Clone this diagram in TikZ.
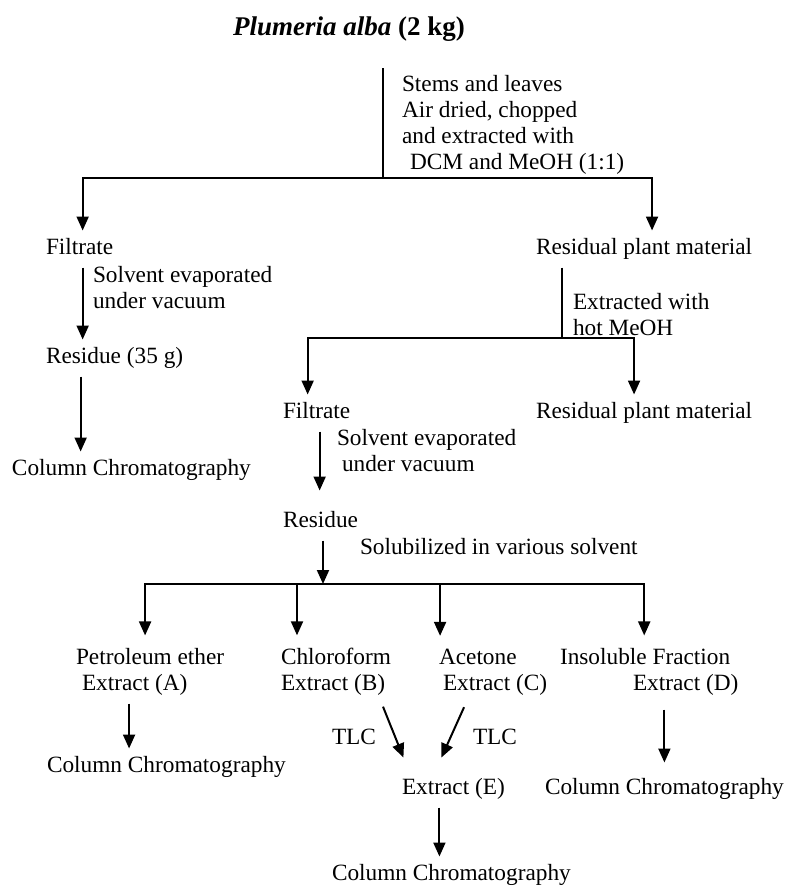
\documentclass[tikz,border=0pt]{standalone}
\usepackage{fontspec}
\setmainfont{Liberation Serif}
\usetikzlibrary{arrows.meta,positioning}

\begin{document}
\begin{tikzpicture}[
		x = 1pt, y = -1pt,
		line/.style = { line width = 2pt },
		arr/.style = { line, -{Triangle[width=12pt,length=14pt]} },
		txt/.style = { inner sep = 0pt, outer xsep = 0pt, outer ysep = 8pt, anchor = west, font = \fontsize{23.3}{26}\selectfont },
		one/.style = { txt, text height = 16pt, text depth = 5pt },
		many/.style = { txt, align = left }
	]
	\useasboundingbox (0,0) rectangle (788,886);

	\node [font = \fontsize{27}{30}\selectfont\bfseries] (plant) at (349,29) { \textit{Plumeria alba} (2 kg) };
	\node [many] (stems) at (402,125) { Stems and leaves\\ Air dried, chopped\\ and extracted with\\ \hspace*{8pt}DCM and MeOH (1:1) };

	\node [one] (filt1) at (46,249) { Filtrate };
	\node [many] (solv1) at (93,288) { Solvent evaporated\\ under vacuum };
	\node [one] (resd1) at (46,358) { Residue (35 g) };
	\node [one] (cc1) at (12,470) { Column Chromatography };

	\node [one] (res1) at (536,249) { Residual plant material };
	\node [many] (extr) at (573,315) { Extracted with\\ hot MeOH };
	\node [one] (filt2) at (283,413) { Filtrate };
	\node [one] (res2) at (536,413) { Residual plant material };
	\node [many] (solv2) at (337,451) { Solvent evaporated\\ \hspace*{5pt}under vacuum };
	\node [one] (resd2) at (283,522) { Residue };
	\node [one] (solub) at (360,549) { Solubilized in various solvent };

	\node [many] (petA) at (76,672) { Petroleum ether\\ \hspace*{6pt}Extract (A) };
	\node [many] (chlB) at (281,672) { Chloroform\\ Extract (B) };
	\node [many] (aceC) at (439,672) { Acetone\\ \hspace*{4pt}Extract (C) };
	\node [many] (insD) at (560,672) { Insoluble Fraction\\ \hspace*{73pt}Extract (D) };

	\node [one] (cc2) at (47,767) { Column Chromatography };
	\node [one] (tlc1) at (332,739) { TLC };
	\node [one] (tlc2) at (473,739) { TLC };
	\node [one] (extE) at (402,789) { Extract (E) };
	\node [one] (cc3) at (545,789) { Column Chromatography };
	\node [one] (cc4) at (332,875) { Column Chromatography };

	\coordinate (stem) at (383,68);
	\coordinate (split1) at (383,178);
	\coordinate (split2) at (562,338);
	\coordinate (split3) at (323,584);

	\draw [line] (stem) -- (split1);
	\draw [arr] (split1) -| ([xshift=3pt]filt1.north);
	\draw [arr] (split1) -| ([xshift=8pt]res1.north);

	\draw [arr] ([xshift=3pt]filt1.south) -- ([xshift=3pt]filt1.south |- resd1.north);
	\draw [arr] ([xshift=1pt]filt1.south |- resd1.south) -- ([xshift=1pt]filt1.south |- cc1.north);

	\draw [line] (res1.south -| split2) -- (split2);
	\draw [arr] (split2) -| ([xshift=-9pt]filt2.north);
	\draw [arr] (split2) -| ([xshift=-10pt]res2.north);

	\draw [arr] ([xshift=3pt]filt2.south) -- ([xshift=3pt,yshift=13pt]filt2.south |- resd2.north);
	\draw [arr] (resd2.south -| split3) -- (split3);
	\draw [arr] (split3) -| ([xshift=-5pt,yshift=5pt]petA.north);
	\draw [arr] (split3) -| ([xshift=-39pt,yshift=5pt]chlB.north);
	\draw [arr] (split3) -| ([xshift=-53pt,yshift=5pt]aceC.north);
	\draw [arr] (split3) -| ([xshift=-5pt,yshift=5pt]insD.north);

	\draw [arr] ([xshift=-21pt]petA.south) -- ([xshift=-21pt]petA.south |- cc2.north);
	\draw [arr] ([xshift=47pt,yshift=-3pt]chlB.south) -- ([xshift=-50pt,yshift=13pt]extE.north);
	\draw [arr] ([xshift=-29pt,yshift=-4pt]aceC.south) -- ([xshift=-12pt,yshift=13pt]extE.north);
	\draw [arr] ([yshift=-6pt]insD.south -| cc3.north) -- ([yshift=8pt]cc3.north);
	\draw [arr] ([xshift=-14pt]extE.south) -- ([xshift=-14pt]extE.south |- cc4.north);
\end{tikzpicture}
\end{document}
